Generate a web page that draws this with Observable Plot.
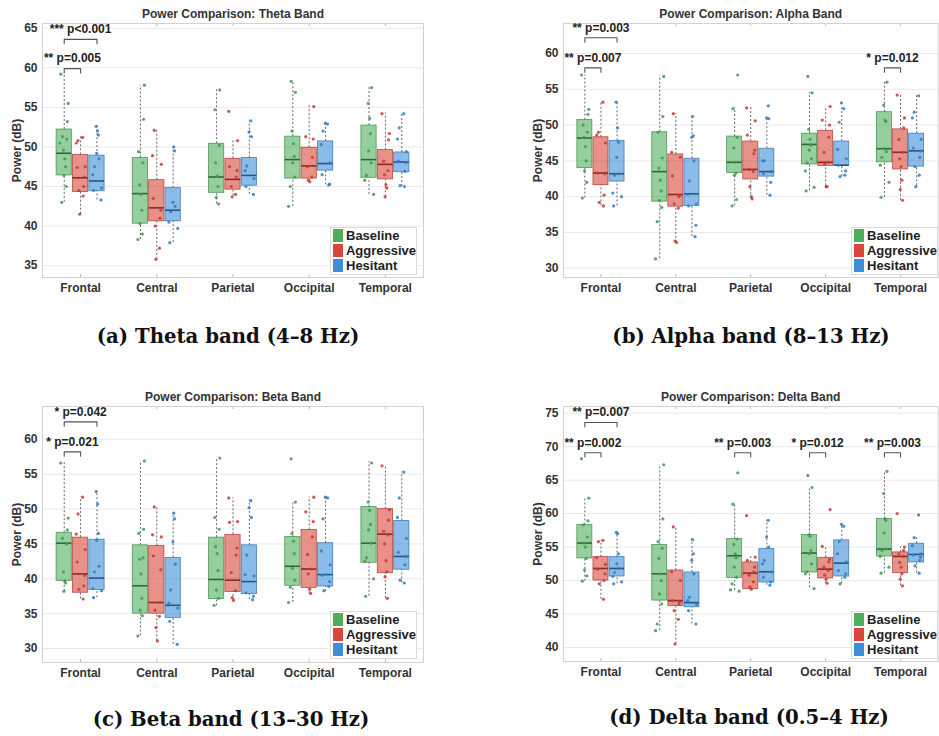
<!DOCTYPE html>
<html><head><meta charset="utf-8">
<script src="https://cdn.jsdelivr.net/npm/d3@7"></script>
<script src="https://cdn.jsdelivr.net/npm/@observablehq/plot@0.6"></script>
<style>
body{margin:0;background:#fff;}
#page{position:relative;width:939px;height:736px;overflow:hidden;background:#fff;}
.panel{position:absolute;}
.panel svg{overflow:visible;}
.legend{position:absolute;background:#fff;border:1px solid #dcdcdc;font:bold 13px "Liberation Sans",Arial,sans-serif;color:#222;width:87px;box-sizing:border-box;padding:0 0 1px 2px;}
.legend .row{display:flex;align-items:center;height:15px;}
.legend .sw{width:10px;height:13px;margin-right:3px;}
.caption{position:absolute;font:bold 19.7px "DejaVu Serif",serif;color:#111;transform:translateX(-50%);white-space:nowrap;line-height:24px;}
</style>
</head><body>
<div id="page"></div>
<script>
const regions = ["Frontal","Central","Parietal","Occipital","Temporal"];
const groups = ["Baseline","Aggressive","Hesitant"];

// box stats [lo, q1, median, q3, hi], order: region x group (Baseline, Aggressive, Hesitant)
const thetaStats = [
 [43.0,46.4,49.2,52.2,59.3],[41.5,44.3,46.1,49.0,51.4],[43.3,44.4,45.7,48.9,52.7],
 [38.3,40.3,44.1,48.6,57.8],[35.8,40.6,42.3,45.8,52.1],[37.9,40.6,42.0,44.8,50.0],
 [42.8,44.2,46.2,50.4,57.3],[43.8,44.6,45.9,48.5,50.8],[44.0,45.1,46.4,48.6,53.3],
 [42.5,46.0,48.4,51.3,58.4],[45.6,46.0,47.6,49.9,55.2],[45.2,47.0,47.9,50.7,53.1],
 [44.0,46.1,48.4,52.7,57.5],[43.7,45.9,47.8,49.6,54.3],[45.0,46.8,48.1,49.3,54.2]
];
const thetaPoints = [
 [59.2,55.5,53.2,51.3,51.0,49.6,48.5,47.5,46.4,45.0,43.0,50.5],
 [51.2,50.8,50.5,47.5,47.4,46.2,45.0,44.5,43.8,41.5],
 [52.6,52.0,51.5,49.2,48.5,47.5,46.5,44.8,44.5,43.3],
 [57.8,53.5,49.4,48.0,45.2,44.0,42.0,40.3,39.0,38.3],
 [52.1,48.9,47.8,43.5,42.0,41.0,40.0,37.2,35.8],
 [50.0,49.5,43.0,42.5,41.8,40.5,39.7,37.9],
 [57.2,54.7,50.2,48.0,46.3,45.0,43.6,42.8],
 [54.5,50.8,47.5,47.0,46.2,45.0,44.0,43.7],
 [53.3,51.9,51.3,47.6,47.0,46.0,45.0,44.0],
 [58.3,56.9,52.0,50.4,48.8,48.0,46.2,45.0,42.5],
 [55.1,51.3,51.0,48.7,47.5,46.2,45.8,45.6],
 [53.0,52.9,52.0,50.3,48.0,46.5,45.3,45.2],
 [57.5,55.5,53.6,51.7,49.5,48.0,46.4,45.8,44.0],
 [54.2,51.7,50.9,48.2,47.0,46.5,45.2,44.8,43.7],
 [54.2,52.4,51.0,49.4,48.2,48.0,46.9,45.1,45.0]
];
// significance: [region, compared group, bracket level (dB), label]
const thetaSig = [[0,1,59.9,"** p=0.005"],[0,2,63.6,"*** p<0.001"]];

const alphaStats = [
 [39.8,44.0,48.2,50.7,57.0],[38.7,41.6,43.3,48.3,53.3],[38.7,42.1,43.2,47.8,53.2],
 [31.3,39.3,43.5,49.0,56.9],[33.6,38.6,40.3,45.9,51.6],[34.4,38.7,40.4,45.3,51.2],
 [38.7,43.3,44.8,48.4,52.4],[39.7,42.4,43.8,47.7,52.5],[40.2,42.8,43.5,46.7,51.1],
 [40.8,44.5,47.3,48.8,54.6],[41.5,44.3,44.8,49.2,52.6],[42.8,44.3,44.4,47.7,52.4],
 [39.9,44.8,46.7,51.8,56.1],[39.5,43.8,46.2,49.4,54.2],[41.5,44.2,46.4,48.8,54.2]
];
const alphaPoints = [
 [57.0,52.2,51.5,50.0,49.0,48.3,47.0,45.0,43.6,42.0,39.8],
 [53.2,49.0,48.6,47.5,43.3,43.2,40.2,39.2,38.7],
 [53.2,49.6,47.6,45.5,43.2,43.0,40.5,40.0,38.7],
 [56.8,51.2,49.0,45.4,44.0,42.3,40.8,39.5,38.5,36.5,31.3],
 [51.6,46.2,45.5,42.9,40.2,40.0,39.0,38.4,33.8,33.6],
 [51.2,48.5,48.3,45.0,42.2,40.3,39.0,38.7,36.0,34.4],
 [57.0,52.3,48.3,46.8,44.8,43.3,43.0,39.6,38.7],
 [52.4,50.6,48.6,46.5,46.0,43.8,43.5,41.4,40.0,39.7],
 [52.7,51.0,50.9,45.0,45.0,43.5,43.2,42.0,40.2],
 [56.8,54.5,49.4,48.0,47.2,46.5,45.3,44.7,43.6,41.3,40.8],
 [52.6,50.7,50.0,48.3,46.2,44.8,44.5,41.4,41.4],
 [53.1,52.3,50.4,46.6,45.3,44.4,43.6,43.0,42.8],
 [56.0,52.8,50.7,50.5,46.7,46.3,45.5,44.4,42.0,39.9],
 [54.2,51.0,49.6,48.0,46.2,45.3,44.2,42.3,41.0,39.5],
 [54.1,51.8,51.0,48.0,46.8,46.4,45.5,44.2,43.0,41.4]
];
const alphaSig = [[0,1,58.0,"** p=0.007"],[0,2,62.2,"** p=0.003"],[4,1,58.0,"* p=0.012"]];

const betaStats = [
 [38.2,39.7,45.1,46.6,56.7],[37.1,38.0,40.7,45.9,51.7],[37.3,38.4,40.1,45.6,52.6],
 [31.8,35.0,39.0,44.8,56.9],[31.1,35.0,36.6,44.7,50.3],[30.6,34.4,36.2,43.0,49.4],
 [36.1,37.1,39.9,45.9,57.4],[36.9,38.1,39.8,46.3,51.6],[37.0,37.8,39.6,44.8,51.3],
 [36.6,39.0,41.8,46.0,51.0],[37.9,38.7,41.4,47.0,51.7],[38.2,38.9,40.6,45.1,51.8],
 [37.5,42.3,45.1,50.3,56.8],[37.2,40.8,46.4,50.0,56.3],[39.4,41.3,43.2,48.3,55.3]
];
const betaPoints = [
 [56.6,48.7,47.0,45.8,45.0,41.0,39.7,39.4,38.2],
 [51.7,49.3,46.4,44.2,42.4,40.5,39.0,38.5,37.1],
 [52.5,50.7,46.5,45.5,41.8,41.0,38.6,38.3,37.3],
 [56.9,47.1,46.5,43.0,42.8,40.7,37.2,35.5,34.7,31.8],
 [50.3,46.3,46.0,43.3,41.3,36.6,35.5,34.6,33.0,31.1],
 [49.4,48.6,45.3,42.1,38.4,36.5,35.8,33.9,30.6],
 [57.3,48.8,47.1,44.6,43.6,41.2,38.4,37.2,36.2],
 [51.6,48.2,48.1,44.4,43.4,40.9,38.3,37.3,36.9],
 [51.2,50.2,48.8,43.4,40.6,40.4,38.0,37.5,37.0],
 [57.2,51.0,46.5,45.4,43.6,41.5,39.8,38.8,36.6],
 [51.7,49.6,48.2,46.0,43.5,41.4,40.7,38.5,37.9],
 [51.7,51.6,48.6,44.0,42.0,40.5,39.6,38.9,38.3],
 [56.6,51.0,49.8,47.8,47.0,45.1,43.0,42.5,40.0,37.5],
 [56.2,49.9,48.4,46.8,46.3,45.0,42.6,41.0,40.3,37.2],
 [55.3,51.6,48.8,45.8,43.8,43.2,42.0,39.8,39.4]
];
const betaSig = [[0,1,58.2,"* p=0.021"],[0,2,62.5,"* p=0.042"]];

const deltaStats = [
 [49.9,53.3,55.6,58.3,62.3],[47.2,50.0,51.8,53.5,56.0],[49.5,50.6,51.8,53.5,57.3],
 [42.5,47.0,51.0,55.3,67.3],[40.5,46.2,47.0,51.5,58.0],[43.5,46.0,46.7,51.2,56.2],
 [48.5,50.4,53.7,56.2,61.4],[48.7,48.7,51.1,52.7,53.6],[49.3,49.7,51.3,54.7,59.0],
 [48.9,51.2,54.1,56.8,63.9],[49.6,50.3,51.7,53.4,55.1],[49.5,50.6,52.6,56.0,58.5],
 [51.1,53.6,54.7,59.2,66.3],[49.2,51.1,53.6,54.2,55.0],[51.1,52.7,53.9,55.5,56.5]
];
const deltaPoints = [
 [68.2,62.3,58.9,58.3,56.5,55.6,55.0,53.3,51.6,50.7,49.9],
 [56.0,55.8,53.4,52.4,51.7,51.0,50.0,49.5,47.2],
 [57.2,57.0,54.0,52.5,51.8,51.2,50.6,49.8,49.5],
 [67.3,59.2,55.8,54.8,53.3,51.0,50.0,48.0,46.5,43.5,42.5],
 [58.0,51.3,50.0,47.0,46.8,46.5,45.5,44.2,40.5],
 [56.1,54.0,53.0,51.0,47.5,47.0,46.4,45.5,43.5],
 [66.1,61.4,56.2,55.4,54.0,53.4,52.0,50.5,49.5,48.6,48.4],
 [59.7,53.5,53.0,52.0,51.3,50.8,49.8,49.0,48.7],
 [59.0,56.5,55.0,53.0,52.5,51.3,50.5,49.8,49.3],
 [65.7,63.9,56.8,56.6,54.5,54.0,52.5,51.3,51.0,48.8],
 [60.6,55.1,53.2,52.8,52.0,51.5,50.8,50.2,49.6],
 [58.4,58.1,55.8,54.0,52.8,51.5,51.0,50.5,49.5],
 [66.3,63.0,59.2,59.0,57.1,54.7,54.5,53.6,52.0,51.1],
 [60.0,55.0,54.5,54.0,53.6,52.7,52.0,51.0,50.2,49.2],
 [59.8,56.4,55.2,54.0,53.8,53.5,53.0,52.2,51.1]
];
const deltaSig = [[0,1,69.1,"** p=0.002"],[0,2,73.6,"** p=0.007"],[2,1,69.1,"** p=0.003"],[3,1,69.1,"* p=0.012"],[4,1,69.1,"** p=0.003"]];

const titles = ["Power Comparison: Theta Band","Power Comparison: Alpha Band","Power Comparison: Beta Band","Power Comparison: Delta Band"];
const captions = ["(a) Theta band (4\u20138 Hz)","(b) Alpha band (8\u201313 Hz)","(c) Beta band (13\u201330 Hz)","(d) Delta band (0.5\u20134 Hz)"];
const yDomains = [[33.5,65.6],[28.7,64.2],[28,64.7],[37.9,76]];
const yTicks = [[35,40,45,50,55,60,65],[30,35,40,45,50,55,60],[30,35,40,45,50,55,60],[40,45,50,55,60,65,70,75]];

const baseColors = ["#4daf5b","#d9473a","#3d8fd9"];
const edgeColors = ["#3c8a47","#a8372c","#2f6fab"];
const medColors = ["#2c6a35","#8a2a21","#23568a"];
const dotColors = ["#3f9a4c","#c4392d","#2f7cc4"];

const OFF = 0.215, HALF = 0.1;
const JIT = [-0.6,0.35,-0.15,0.7,-0.45,0.1,0.55,-0.75,0.25,-0.3,0.8,-0.05,0.45];

const layouts = [
 {left:0,top:0,width:470,height:300,mt:23,mr:47,mb:23,ml:42},
 {left:470,top:0,width:469,height:300,mt:23,mr:1.5,mb:23,ml:93},
 {left:0,top:383,width:470,height:300,mt:23,mr:47,mb:21,ml:42},
 {left:470,top:383,width:469,height:300,mt:23,mr:1.5,mb:22,ml:93}
];
const legendPos = [[330,227],[851,227],[330,611],[851,611]];
const captionPos = [[228,325],[751,325],[231,708],[749,706]];

const bands = [
 [thetaStats,thetaPoints,thetaSig],
 [alphaStats,alphaPoints,alphaSig],
 [betaStats,betaPoints,betaSig],
 [deltaStats,deltaPoints,deltaSig]
];

const page = document.getElementById("page");

bands.forEach(([statsRaw,pointsRaw,sigRaw],p)=>{
  const L = layouts[p];
  const dom = yDomains[p];
  const ppu = (L.height - L.mt - L.mb)/(dom[1]-dom[0]);
  const stats = statsRaw.map((s,k)=>{
    const ri = Math.floor(k/3), gi = k%3, xc = ri + (gi-1)*OFF;
    return {ri,gi,xc,lo:s[0],q1:s[1],med:s[2],q3:s[3],hi:s[4]};
  });
  const pts = [];
  pointsRaw.forEach((arr,k)=>{
    const ri = Math.floor(k/3), gi = k%3, xc = ri + (gi-1)*OFF;
    arr.forEach((v,j)=>pts.push({gi, x: xc + JIT[(j*3+k)%JIT.length]*HALF*0.75, y: v}));
  });
  const leg = 4.3/ppu, txt = 10/ppu, tk = 3/ppu;
  const br = sigRaw.map(([r,g,y,label],i)=>({i,label,y,x1:r-OFF,x2:r+(g-1)*OFF}));
  const brPath = br.flatMap(b=>[{i:b.i,x:b.x1,y:b.y-leg},{i:b.i,x:b.x1,y:b.y},{i:b.i,x:b.x2,y:b.y},{i:b.i,x:b.x2,y:b.y-leg}]);
  const cats = [0,1,2,3,4];

  const chart = Plot.plot({
    width: L.width, height: L.height,
    marginTop: L.mt, marginRight: L.mr, marginBottom: L.mb, marginLeft: L.ml,
    style: {fontFamily:'"Liberation Sans", Arial, sans-serif', fontSize:"12px", fontWeight:"bold", color:"#333", background:"transparent", overflow:"visible"},
    x: {domain:[-0.5,4.5], ticks:cats, tickFormat:i=>regions[i], tickSize:0, tickPadding:6, label:null},
    y: {domain:dom, ticks:yTicks[p], tickSize:0, tickPadding:5, label:null},
    marks: [
      Plot.gridY(yTicks[p], {stroke:"#e9e9e9", strokeOpacity:1}),
      Plot.ruleX(cats, {x:d=>d, y1:dom[1], y2:dom[1]-tk, stroke:"#bbb"}),
      Plot.ruleX(cats, {x:d=>d, y1:dom[0], y2:dom[0]+tk, stroke:"#bbb"}),
      Plot.frame({stroke:"#d2d2d2"}),
      Plot.ruleX(stats, {x:"xc", y1:"lo", y2:"q1", stroke:"#666", strokeDasharray:"2,2", strokeWidth:1}),
      Plot.ruleX(stats, {x:"xc", y1:"q3", y2:"hi", stroke:"#666", strokeDasharray:"2,2", strokeWidth:1}),
      Plot.rect(stats, {x1:d=>d.xc-HALF, x2:d=>d.xc+HALF, y1:"q1", y2:"q3", fill:d=>baseColors[d.gi], fillOpacity:0.6, stroke:d=>edgeColors[d.gi], strokeOpacity:0.85, strokeWidth:0.8}),
      Plot.ruleY(stats, {x1:d=>d.xc-HALF, x2:d=>d.xc+HALF, y:"med", stroke:d=>medColors[d.gi], strokeWidth:1.6}),
      Plot.dot(pts, {x:"x", y:"y", r:1.6, fill:d=>dotColors[d.gi], fillOpacity:0.85, stroke:null}),
      Plot.line(brPath, {x:"x", y:"y", z:"i", stroke:"#555", strokeWidth:1.1}),
      Plot.text(br, {x:d=>(d.x1+d.x2)/2, y:d=>d.y+txt, text:"label", fill:"#222", fontSize:12, fontWeight:"bold", lineAnchor:"middle"}),
      Plot.text([titles[p]], {frameAnchor:"top", dy:-9, fontSize:12, fontWeight:"bold", fill:"#333", lineAnchor:"middle"}),
      Plot.text(["Power (dB)"], {frameAnchor:"left", dx:-25, rotate:-90, fontSize:12, fontWeight:"bold", fill:"#333", lineAnchor:"middle", textAnchor:"middle"})
    ]
  });
  const wrap = document.createElement("div");
  wrap.className = "panel";
  wrap.style.left = L.left+"px"; wrap.style.top = L.top+"px";
  wrap.appendChild(chart);
  page.appendChild(wrap);

  const lg = document.createElement("div");
  lg.className = "legend";
  lg.style.left = legendPos[p][0]+"px"; lg.style.top = legendPos[p][1]+"px";
  groups.forEach((g,gi)=>{
    const row = document.createElement("div"); row.className="row";
    const sw = document.createElement("span"); sw.className="sw"; sw.style.background = baseColors[gi];
    const t = document.createElement("span"); t.textContent = g;
    row.appendChild(sw); row.appendChild(t); lg.appendChild(row);
  });
  page.appendChild(lg);

  const cap = document.createElement("div");
  cap.className = "caption";
  cap.style.left = captionPos[p][0]+"px"; cap.style.top = captionPos[p][1]+"px";
  cap.textContent = captions[p];
  page.appendChild(cap);
});
</script>
</body></html>
